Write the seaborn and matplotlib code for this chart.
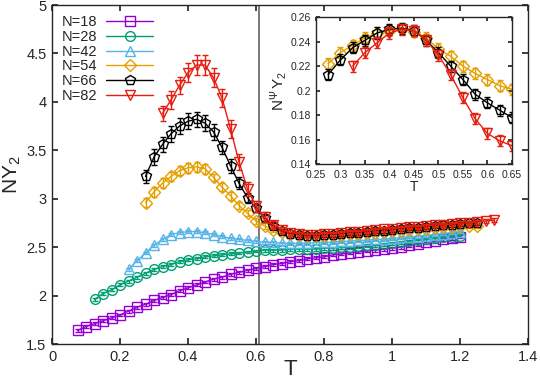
import numpy as np
import matplotlib
matplotlib.use("Agg")
import matplotlib.pyplot as plt
import seaborn as sns

# temperature grids (step 0.025)
T18 = np.round(np.arange(0.075, 1.2001, 0.025), 3)
T28 = np.round(np.arange(0.125, 1.2001, 0.025), 3)
T42 = np.round(np.arange(0.225, 1.2001, 0.025), 3)
T54 = np.round(np.arange(0.275, 1.2501, 0.025), 3)
T66 = np.round(np.arange(0.275, 1.2501, 0.025), 3)
T82 = np.round(np.arange(0.325, 1.3001, 0.025), 3)

Y18 = [1.64, 1.68, 1.71, 1.74, 1.77, 1.80, 1.84, 1.88, 1.91, 1.95, 1.98, 2.01, 2.05, 2.08, 2.11,
       2.14, 2.17, 2.19, 2.22, 2.24, 2.26, 2.28, 2.30, 2.32, 2.33, 2.35, 2.36, 2.38, 2.39, 2.40,
       2.42, 2.43, 2.44, 2.45, 2.46, 2.47, 2.48, 2.49, 2.50, 2.52, 2.53, 2.55, 2.56, 2.58, 2.59, 2.61]
Y28 = [1.96, 2.02, 2.06, 2.11, 2.15, 2.19, 2.23, 2.27, 2.30, 2.32, 2.35, 2.37, 2.38, 2.40, 2.41,
       2.42, 2.43, 2.44, 2.45, 2.46, 2.47, 2.47, 2.47, 2.48, 2.48, 2.48, 2.48, 2.49, 2.49, 2.50,
       2.50, 2.51, 2.52, 2.52, 2.53, 2.54, 2.55, 2.56, 2.57, 2.58, 2.59, 2.60, 2.61, 2.62]
Y42 = [2.27, 2.36, 2.44, 2.52, 2.58, 2.63, 2.65, 2.66, 2.66, 2.65, 2.63, 2.61, 2.59, 2.58, 2.57,
       2.56, 2.55, 2.55, 2.54, 2.54, 2.54, 2.54, 2.55, 2.55, 2.55, 2.56, 2.56, 2.57, 2.57, 2.58,
       2.58, 2.59, 2.60, 2.61, 2.61, 2.62, 2.63, 2.64, 2.65, 2.66]
Y54 = [2.96, 3.07, 3.16, 3.23, 3.29, 3.32, 3.33, 3.31, 3.22, 3.12, 3.03, 2.93, 2.85, 2.77, 2.72,
       2.68, 2.66, 2.64, 2.63, 2.62, 2.62, 2.62, 2.63, 2.63, 2.64, 2.64, 2.65, 2.65, 2.66, 2.67,
       2.67, 2.68, 2.69, 2.69, 2.70, 2.71, 2.71, 2.72, 2.72, 2.72]
Y66 = [3.23, 3.43, 3.56, 3.67, 3.75, 3.80, 3.82, 3.78, 3.69, 3.53, 3.34, 3.16, 3.01, 2.90, 2.80,
       2.72, 2.67, 2.64, 2.63, 2.62, 2.62, 2.63, 2.63, 2.64, 2.65, 2.65, 2.66, 2.67, 2.67, 2.68,
       2.69, 2.70, 2.70, 2.71, 2.72, 2.73, 2.73, 2.74, 2.75, 2.75]
Y82 = [3.88, 4.02, 4.17, 4.30, 4.38, 4.38, 4.25, 4.04, 3.72, 3.38, 3.10, 2.92, 2.81, 2.73, 2.68,
       2.65, 2.64, 2.63, 2.63, 2.64, 2.64, 2.65, 2.66, 2.66, 2.67, 2.68, 2.69, 2.69, 2.70, 2.71,
       2.71, 2.72, 2.73, 2.73, 2.74, 2.75, 2.75, 2.76, 2.77, 2.78]

E54 = [0.05, 0.05, 0.05, 0.05, 0.05, 0.05, 0.05, 0.05, 0.04, 0.04, 0.04, 0.04, 0.03, 0.03, 0.03,
       0.02, 0.02, 0.02, 0.02, 0.02, 0.02, 0.02, 0.02, 0.02, 0.02, 0.02, 0.02, 0.02, 0.02, 0.02,
       0.02, 0.02, 0.02, 0.02, 0.02, 0.02, 0.02, 0.02, 0.02, 0.02]
E66 = [0.07, 0.08, 0.08, 0.08, 0.08, 0.08, 0.08, 0.08, 0.08, 0.07, 0.07, 0.06, 0.05, 0.04, 0.03,
       0.03, 0.02, 0.02, 0.02, 0.02, 0.02, 0.02, 0.02, 0.02, 0.02, 0.02, 0.02, 0.02, 0.02, 0.02,
       0.02, 0.02, 0.02, 0.02, 0.02, 0.02, 0.02, 0.02, 0.02, 0.02]
E82 = [0.08, 0.09, 0.09, 0.10, 0.10, 0.10, 0.10, 0.09, 0.09, 0.08, 0.07, 0.06, 0.05, 0.04, 0.03,
       0.03, 0.02, 0.02, 0.02, 0.02, 0.02, 0.02, 0.02, 0.02, 0.02, 0.02, 0.02, 0.02, 0.02, 0.02,
       0.02, 0.02, 0.02, 0.02, 0.02, 0.02, 0.02, 0.02, 0.02, 0.02]

# inset: N^psi Y2
Ti54 = np.round(np.arange(0.275, 0.6501, 0.025), 3)
Ti66 = np.round(np.arange(0.275, 0.6501, 0.025), 3)
Ti82 = np.round(np.arange(0.325, 0.6501, 0.025), 3)
Yi54 = [0.222, 0.231, 0.237, 0.243, 0.247, 0.249, 0.250, 0.248, 0.243, 0.234, 0.228, 0.220,
        0.214, 0.209, 0.204, 0.201]
Yi66 = [0.213, 0.225, 0.235, 0.241, 0.247, 0.250, 0.251, 0.249, 0.241, 0.231, 0.220, 0.209,
        0.197, 0.190, 0.184, 0.178]
Yi82 = [0.220, 0.231, 0.239, 0.247, 0.250, 0.249, 0.241, 0.229, 0.213, 0.194, 0.177, 0.165,
        0.159, 0.155]

labels = ["N=18", "N=28", "N=42", "N=54", "N=66", "N=82"]
colors = ["#9400d3", "#009e73", "#56b4e9", "#e69f00", "#000000", "#e51e10"]
markers = ["s", "o", "^", "D", "p", "v"]
msizes = [7, 7, 7, 6, 7.5, 7.5]

sns.set_theme(style="ticks")
plt.rcParams["font.family"] = ["Liberation Sans", "DejaVu Sans"]
plt.rcParams["mathtext.fontset"] = "custom"
plt.rcParams["mathtext.rm"] = "Liberation Sans"
plt.rcParams["mathtext.it"] = "Liberation Sans:italic"

fig = plt.figure(figsize=(5.4, 3.79), dpi=100)
ax = fig.add_axes([0.0963, 0.0923, 0.8815, 0.8945])

series = [(T18, Y18, None), (T28, Y28, None), (T42, Y42, None),
          (T54, Y54, E54), (T66, Y66, E66), (T82, Y82, E82)]
for (t, y, e), lab, c, m, ms in zip(series, labels, colors, markers, msizes):
    err = e if e is not None else [0.015] * len(y)
    ax.errorbar(t, y, yerr=err, fmt="none", ecolor=c, elinewidth=1, capsize=2.5, capthick=1)
    sns.lineplot(x=t, y=y, ax=ax, color=c, marker=m, markersize=ms, markerfacecolor="none",
                 markeredgecolor=c, markeredgewidth=1, linewidth=1, label=lab)

ax.axvline(0.61, color="#707070", linewidth=1.3, zorder=0)
ax.set_xlim(0, 1.4)
ax.set_ylim(1.5, 5)
ax.set_xticks([0, 0.2, 0.4, 0.6, 0.8, 1, 1.2, 1.4])
ax.set_xticklabels(["0", "0.2", "0.4", "0.6", "0.8", "1", "1.2", "1.4"])
ax.set_yticks([1.5, 2, 2.5, 3, 3.5, 4, 4.5, 5])
ax.set_yticklabels(["1.5", "2", "2.5", "3", "3.5", "4", "4.5", "5"])
ax.tick_params(direction="in", top=True, right=True, labelsize=10.5, length=4, pad=4)
ax.set_xlabel("T", fontsize=16, labelpad=-3)
ax.set_ylabel(r"$\mathrm{NY}_2$", fontsize=15, labelpad=2)
for s in ax.spines.values():
    s.set_linewidth(1)
leg = ax.legend(loc="upper left", markerfirst=False, frameon=False, fontsize=10.5,
                handlelength=3.2, handletextpad=0.6, labelspacing=0.05,
                borderaxespad=0.3, bbox_to_anchor=(0.0, 1.0))

# inset
axi = fig.add_axes([0.585, 0.567, 0.363, 0.388])
inset = [(Ti54, Yi54, 3), (Ti66, Yi66, 4), (Ti82, Yi82, 5)]
for t, y, k in inset:
    axi.errorbar(t, y, yerr=[0.0045] * len(y), fmt="none", ecolor=colors[k], elinewidth=1,
                 capsize=2.5, capthick=1)
    sns.lineplot(x=t, y=y, ax=axi, color=colors[k], marker=markers[k], markersize=msizes[k],
                 markerfacecolor="none", markeredgecolor=colors[k], markeredgewidth=1,
                 linewidth=1, legend=False)
axi.set_xlim(0.25, 0.65)
axi.set_ylim(0.14, 0.26)
axi.set_xticks([0.25, 0.3, 0.35, 0.4, 0.45, 0.5, 0.55, 0.6, 0.65])
axi.set_xticklabels(["0.25", "0.3", "0.35", "0.4", "0.45", "0.5", "0.55", "0.6", "0.65"])
axi.set_yticks([0.14, 0.16, 0.18, 0.2, 0.22, 0.24, 0.26])
axi.set_yticklabels(["0.14", "0.16", "0.18", "0.2", "0.22", "0.24", "0.26"])
axi.tick_params(axis="x", pad=4)
axi.tick_params(direction="in", top=True, right=True, labelsize=7.5, length=3)
axi.set_xlabel("T", fontsize=10, labelpad=0)
axi.set_ylabel(r"$\mathrm{N}^{\Psi}\,\mathrm{Y}_2$", fontsize=11, labelpad=1)
for s in axi.spines.values():
    s.set_linewidth(1)

fig.savefig("out.png", dpi=100)
